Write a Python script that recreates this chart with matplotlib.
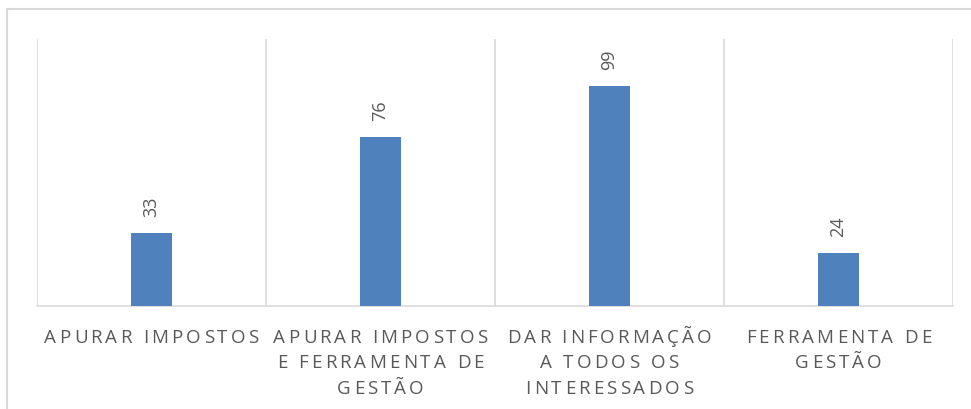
import matplotlib
matplotlib.use("Agg")
import matplotlib.pyplot as plt
from matplotlib.lines import Line2D
from matplotlib.font_manager import FontProperties, findfont
from matplotlib.ft2font import FT2Font

categories = [
    "APURAR IMPOSTOS",
    "APURAR IMPOSTOS\nE FERRAMENTA DE\nGESTÃO",
    "DAR INFORMAÇÃO\nA TODOS OS\nINTERESSADOS",
    "FERRAMENTA DE\nGESTÃO",
]
values = [33, 76, 99, 24]

bar_color = "#4F81BD"
text_color = "#595959"
grid_color = "#D9D9D9"
DPI = 100

plt.rcParams["font.family"] = ["Open Sans", "DejaVu Sans"]

fig = plt.figure(figsize=(9.71, 4.10), dpi=DPI)
ax = fig.add_axes([37 / 971, 1 - 307 / 410, (953 - 37) / 971, (307 - 40) / 410])

x = list(range(len(categories)))
ax.bar(x, values, width=0.18, color=bar_color, zorder=3)

for xi, v in zip(x, values):
    ax.annotate(str(v), (xi, v), xytext=(0, 12), textcoords="offset points",
                rotation=90, ha="center", va="bottom", color=text_color, fontsize=13)

# category separators
for b in [i - 0.5 for i in range(len(categories) + 1)]:
    ax.axvline(b, color=grid_color, linewidth=1.2, zorder=1)

ax.set_xlim(-0.5, len(categories) - 0.5)
ax.set_ylim(0, 120)
ax.set_yticks([])
ax.set_xticks(x)
ax.set_xticklabels([])
ax.tick_params(axis="x", length=0)
for side in ["top", "right", "left"]:
    ax.spines[side].set_visible(False)
ax.spines["bottom"].set_color(grid_color)
ax.spines["bottom"].set_linewidth(1.2)


# category labels with letter spacing, like the spreadsheet original
label_size = 13.5
letter_gap = 3.0   # extra px between characters
line_pitch = 25.5  # px
first_baseline = 36  # px below the axis line
fp = FontProperties(family="Open Sans", size=label_size)
ft = FT2Font(findfont(fp), hinting_factor=1)
ft.set_size(label_size, DPI)


def advance(ch):
    g = ft.load_char(ord(ch))
    return g.linearHoriAdvance / 65536.0


to_fig = fig.transFigure.inverted()
for xi, label in zip(x, categories):
    cx, y0 = ax.transData.transform((xi, 0))
    for k, line in enumerate(label.split("\n")):
        advs = [advance(c) for c in line]
        width = sum(advs) + letter_gap * (len(line) - 1)
        px = cx - width / 2
        base = y0 - first_baseline - k * line_pitch
        for c, a in zip(line, advs):
            if c != " ":
                fx, fy = to_fig.transform((px, base))
                fig.text(fx, fy, c, fontproperties=fp, color=text_color,
                         ha="left", va="baseline")
            px += a + letter_gap

# outer chart frame (top and left edges visible)
fig.add_artist(Line2D([7 / 971, 1], [1 - 10 / 410, 1 - 10 / 410],
                      transform=fig.transFigure, color=grid_color, linewidth=1.5))
fig.add_artist(Line2D([7 / 971, 7 / 971], [0, 1 - 10 / 410],
                      transform=fig.transFigure, color=grid_color, linewidth=1.5))

fig.savefig("out.png", dpi=DPI)
